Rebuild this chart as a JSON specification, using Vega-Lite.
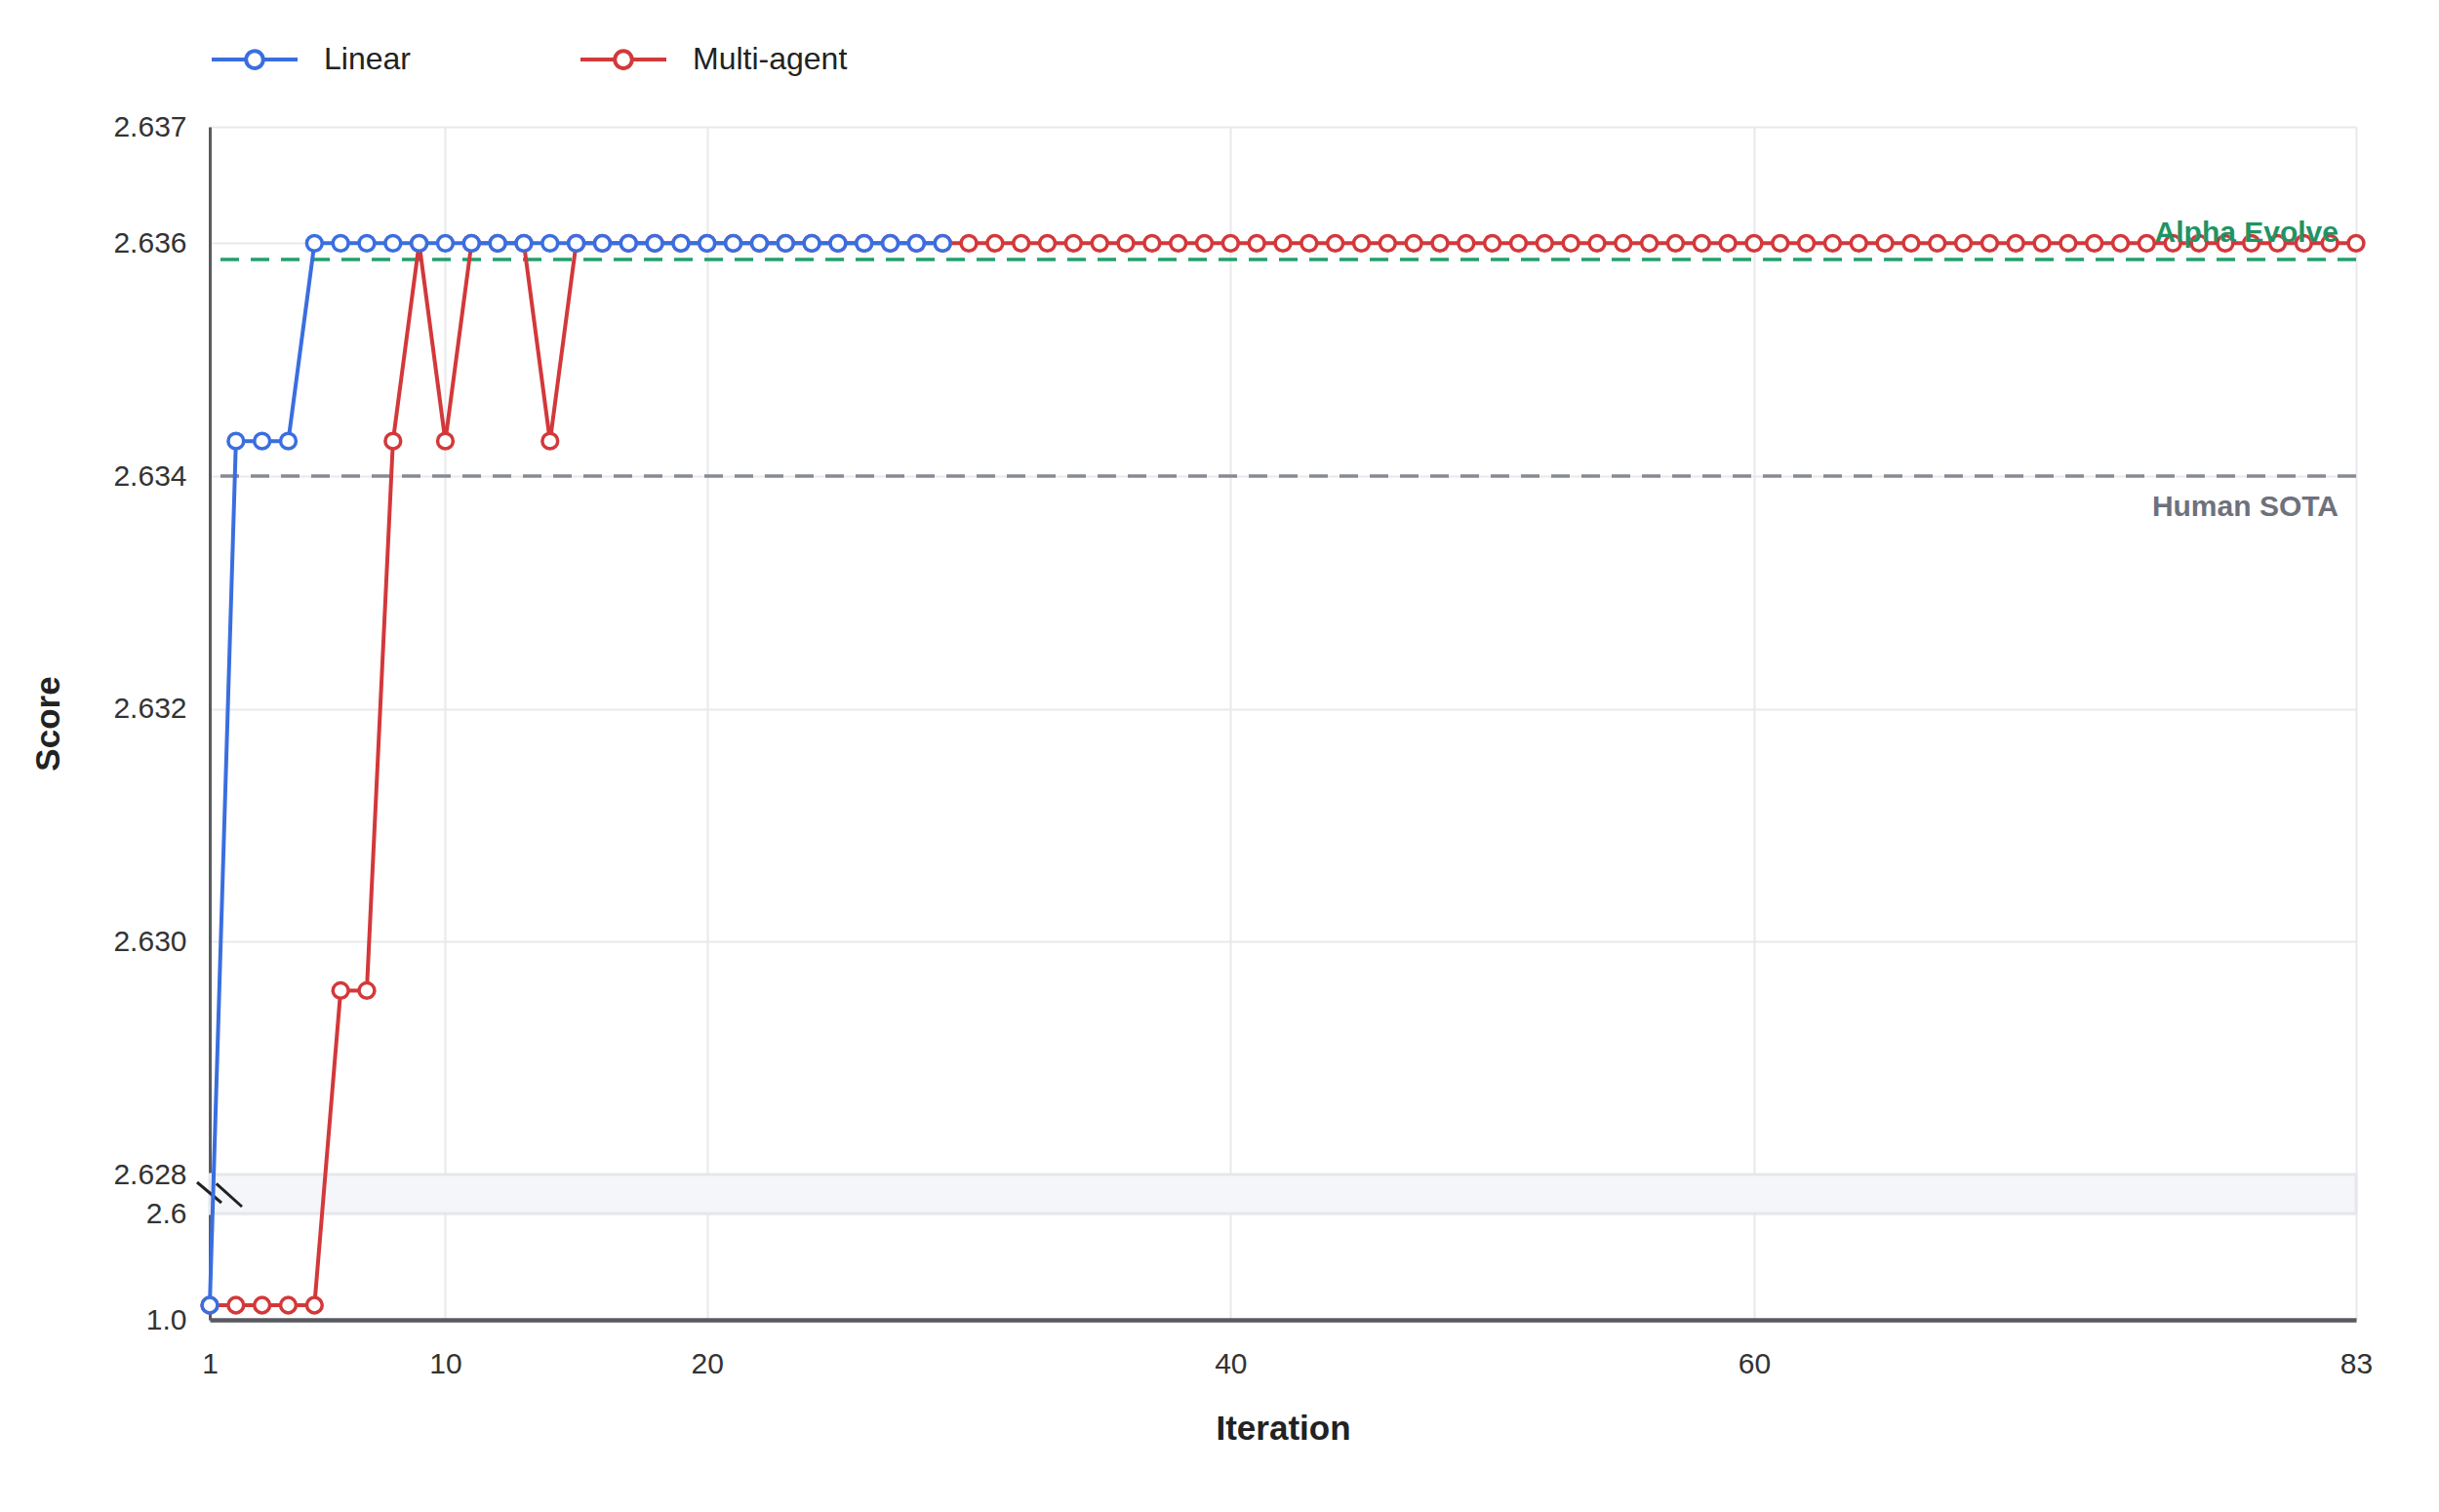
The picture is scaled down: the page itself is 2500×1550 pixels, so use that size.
{
  "$schema": "https://vega.github.io/schema/vega-lite/v6.json",
  "width": 2200,
  "height": 1223,
  "autosize": {"type": "none"},
  "padding": {"left": 215, "top": 130, "right": 85, "bottom": 197},
  "background": "white",
  "datasets": {
    "scores": [
      {"series": "Linear", "iteration": 1, "score": 1.22},
      {"series": "Linear", "iteration": 2, "score": 2.6343},
      {"series": "Linear", "iteration": 3, "score": 2.6343},
      {"series": "Linear", "iteration": 4, "score": 2.6343},
      {"series": "Linear", "iteration": 5, "score": 2.636},
      {"series": "Linear", "iteration": 6, "score": 2.636},
      {"series": "Linear", "iteration": 7, "score": 2.636},
      {"series": "Linear", "iteration": 8, "score": 2.636},
      {"series": "Linear", "iteration": 9, "score": 2.636},
      {"series": "Linear", "iteration": 10, "score": 2.636},
      {"series": "Linear", "iteration": 11, "score": 2.636},
      {"series": "Linear", "iteration": 12, "score": 2.636},
      {"series": "Linear", "iteration": 13, "score": 2.636},
      {"series": "Linear", "iteration": 14, "score": 2.636},
      {"series": "Linear", "iteration": 15, "score": 2.636},
      {"series": "Linear", "iteration": 16, "score": 2.636},
      {"series": "Linear", "iteration": 17, "score": 2.636},
      {"series": "Linear", "iteration": 18, "score": 2.636},
      {"series": "Linear", "iteration": 19, "score": 2.636},
      {"series": "Linear", "iteration": 20, "score": 2.636},
      {"series": "Linear", "iteration": 21, "score": 2.636},
      {"series": "Linear", "iteration": 22, "score": 2.636},
      {"series": "Linear", "iteration": 23, "score": 2.636},
      {"series": "Linear", "iteration": 24, "score": 2.636},
      {"series": "Linear", "iteration": 25, "score": 2.636},
      {"series": "Linear", "iteration": 26, "score": 2.636},
      {"series": "Linear", "iteration": 27, "score": 2.636},
      {"series": "Linear", "iteration": 28, "score": 2.636},
      {"series": "Linear", "iteration": 29, "score": 2.636},
      {"series": "Multi-agent", "iteration": 1, "score": 1.22},
      {"series": "Multi-agent", "iteration": 2, "score": 1.22},
      {"series": "Multi-agent", "iteration": 3, "score": 1.22},
      {"series": "Multi-agent", "iteration": 4, "score": 1.22},
      {"series": "Multi-agent", "iteration": 5, "score": 1.22},
      {"series": "Multi-agent", "iteration": 6, "score": 2.62958},
      {"series": "Multi-agent", "iteration": 7, "score": 2.62958},
      {"series": "Multi-agent", "iteration": 8, "score": 2.6343},
      {"series": "Multi-agent", "iteration": 9, "score": 2.636},
      {"series": "Multi-agent", "iteration": 10, "score": 2.6343},
      {"series": "Multi-agent", "iteration": 11, "score": 2.636},
      {"series": "Multi-agent", "iteration": 12, "score": 2.636},
      {"series": "Multi-agent", "iteration": 13, "score": 2.636},
      {"series": "Multi-agent", "iteration": 14, "score": 2.6343},
      {"series": "Multi-agent", "iteration": 15, "score": 2.636},
      {"series": "Multi-agent", "iteration": 16, "score": 2.636},
      {"series": "Multi-agent", "iteration": 17, "score": 2.636},
      {"series": "Multi-agent", "iteration": 18, "score": 2.636},
      {"series": "Multi-agent", "iteration": 19, "score": 2.636},
      {"series": "Multi-agent", "iteration": 20, "score": 2.636},
      {"series": "Multi-agent", "iteration": 21, "score": 2.636},
      {"series": "Multi-agent", "iteration": 22, "score": 2.636},
      {"series": "Multi-agent", "iteration": 23, "score": 2.636},
      {"series": "Multi-agent", "iteration": 24, "score": 2.636},
      {"series": "Multi-agent", "iteration": 25, "score": 2.636},
      {"series": "Multi-agent", "iteration": 26, "score": 2.636},
      {"series": "Multi-agent", "iteration": 27, "score": 2.636},
      {"series": "Multi-agent", "iteration": 28, "score": 2.636},
      {"series": "Multi-agent", "iteration": 29, "score": 2.636},
      {"series": "Multi-agent", "iteration": 30, "score": 2.636},
      {"series": "Multi-agent", "iteration": 31, "score": 2.636},
      {"series": "Multi-agent", "iteration": 32, "score": 2.636},
      {"series": "Multi-agent", "iteration": 33, "score": 2.636},
      {"series": "Multi-agent", "iteration": 34, "score": 2.636},
      {"series": "Multi-agent", "iteration": 35, "score": 2.636},
      {"series": "Multi-agent", "iteration": 36, "score": 2.636},
      {"series": "Multi-agent", "iteration": 37, "score": 2.636},
      {"series": "Multi-agent", "iteration": 38, "score": 2.636},
      {"series": "Multi-agent", "iteration": 39, "score": 2.636},
      {"series": "Multi-agent", "iteration": 40, "score": 2.636},
      {"series": "Multi-agent", "iteration": 41, "score": 2.636},
      {"series": "Multi-agent", "iteration": 42, "score": 2.636},
      {"series": "Multi-agent", "iteration": 43, "score": 2.636},
      {"series": "Multi-agent", "iteration": 44, "score": 2.636},
      {"series": "Multi-agent", "iteration": 45, "score": 2.636},
      {"series": "Multi-agent", "iteration": 46, "score": 2.636},
      {"series": "Multi-agent", "iteration": 47, "score": 2.636},
      {"series": "Multi-agent", "iteration": 48, "score": 2.636},
      {"series": "Multi-agent", "iteration": 49, "score": 2.636},
      {"series": "Multi-agent", "iteration": 50, "score": 2.636},
      {"series": "Multi-agent", "iteration": 51, "score": 2.636},
      {"series": "Multi-agent", "iteration": 52, "score": 2.636},
      {"series": "Multi-agent", "iteration": 53, "score": 2.636},
      {"series": "Multi-agent", "iteration": 54, "score": 2.636},
      {"series": "Multi-agent", "iteration": 55, "score": 2.636},
      {"series": "Multi-agent", "iteration": 56, "score": 2.636},
      {"series": "Multi-agent", "iteration": 57, "score": 2.636},
      {"series": "Multi-agent", "iteration": 58, "score": 2.636},
      {"series": "Multi-agent", "iteration": 59, "score": 2.636},
      {"series": "Multi-agent", "iteration": 60, "score": 2.636},
      {"series": "Multi-agent", "iteration": 61, "score": 2.636},
      {"series": "Multi-agent", "iteration": 62, "score": 2.636},
      {"series": "Multi-agent", "iteration": 63, "score": 2.636},
      {"series": "Multi-agent", "iteration": 64, "score": 2.636},
      {"series": "Multi-agent", "iteration": 65, "score": 2.636},
      {"series": "Multi-agent", "iteration": 66, "score": 2.636},
      {"series": "Multi-agent", "iteration": 67, "score": 2.636},
      {"series": "Multi-agent", "iteration": 68, "score": 2.636},
      {"series": "Multi-agent", "iteration": 69, "score": 2.636},
      {"series": "Multi-agent", "iteration": 70, "score": 2.636},
      {"series": "Multi-agent", "iteration": 71, "score": 2.636},
      {"series": "Multi-agent", "iteration": 72, "score": 2.636},
      {"series": "Multi-agent", "iteration": 73, "score": 2.636},
      {"series": "Multi-agent", "iteration": 74, "score": 2.636},
      {"series": "Multi-agent", "iteration": 75, "score": 2.636},
      {"series": "Multi-agent", "iteration": 76, "score": 2.636},
      {"series": "Multi-agent", "iteration": 77, "score": 2.636},
      {"series": "Multi-agent", "iteration": 78, "score": 2.636},
      {"series": "Multi-agent", "iteration": 79, "score": 2.636},
      {"series": "Multi-agent", "iteration": 80, "score": 2.636},
      {"series": "Multi-agent", "iteration": 81, "score": 2.636},
      {"series": "Multi-agent", "iteration": 82, "score": 2.636},
      {"series": "Multi-agent", "iteration": 83, "score": 2.636}
    ],
    "refs": [
      {"label": "Alpha Evolve", "score": 2.63586},
      {"label": "Human SOTA", "score": 2.634}
    ],
    "band": [
      {"start": 1, "end": 83, "low": 2.6, "high": 2.628}
    ],
    "breaks": [
      {"x": 0.515, "y": 2.6224, "x2": 1.447, "y2": 2.6077},
      {"x": 1.25, "y": 2.6214, "x2": 2.23, "y2": 2.6049}
    ]
  },
  "layer": [
    {
      "data": {"name": "band"},
      "mark": {"type": "rect", "fill": "#f5f6f9", "stroke": "#e6e7eb", "strokeWidth": 3},
      "encoding": {
        "x": {
          "field": "start", "type": "quantitative",
          "scale": {"domain": [1, 83], "nice": false, "zero": false},
          "axis": {
            "values": [1, 10, 20, 40, 60, 83],
            "title": "Iteration",
            "labelPadding": 30,
            "titlePadding": 34,
            "domainWidth": 4.5
          }
        },
        "x2": {"field": "end"},
        "y": {
          "field": "low", "type": "quantitative",
          "scale": {"domain": [1.0, 2.6, 2.628, 2.637], "range": [1223, 1114, 1074, 0], "nice": false, "zero": false},
          "axis": {
            "values": [1.0, 2.6, 2.628, 2.63, 2.632, 2.634, 2.636, 2.637],
            "labelExpr": "datum.value == 1 ? '1.0' : datum.value == 2.6 ? '2.6' : format(datum.value, '.3f')",
            "title": "Score",
            "labelPadding": 24,
            "titlePadding": 48,
            "domainWidth": 3
          }
        },
        "y2": {"field": "high"}
      }
    },
    {
      "data": {"name": "refs"},
      "transform": [{"filter": "datum.label == 'Alpha Evolve'"}],
      "mark": {"type": "rule", "color": "#22a06b", "strokeWidth": 3.5, "strokeDash": [19, 12]},
      "encoding": {
        "y": {"field": "score", "type": "quantitative"}
      }
    },
    {
      "data": {"name": "refs"},
      "transform": [{"filter": "datum.label == 'Human SOTA'"}],
      "mark": {"type": "rule", "color": "#878a95", "strokeWidth": 3.5, "strokeDash": [19, 12]},
      "encoding": {
        "y": {"field": "score", "type": "quantitative"}
      }
    },
    {
      "data": {"name": "breaks"},
      "mark": {"type": "rule", "color": "#222222", "strokeWidth": 3},
      "encoding": {
        "x": {"field": "x", "type": "quantitative"},
        "x2": {"field": "x2"},
        "y": {"field": "y", "type": "quantitative"},
        "y2": {"field": "y2"}
      }
    },
    {
      "data": {"name": "scores"},
      "transform": [{"filter": "datum.series == 'Multi-agent'"}],
      "mark": {
        "type": "line", "strokeWidth": 4,
        "point": {"filled": false, "fill": "white", "size": 250, "strokeWidth": 3.5}
      },
      "encoding": {
        "x": {"field": "iteration", "type": "quantitative"},
        "y": {"field": "score", "type": "quantitative"},
        "color": {
          "field": "series", "type": "nominal",
          "scale": {"domain": ["Linear", "Multi-agent"], "range": ["#3a6ee0", "#d3383a"]},
          "legend": {
            "title": null,
            "orient": "none",
            "legendX": 0,
            "legendY": -115,
            "direction": "horizontal",
            "padding": 0,
            "symbolType": "M-1,0L-0.2,0M0.2,0L1,0M-0.2,0A0.2,0.2,0,1,0,0.2,0A0.2,0.2,0,1,0,-0.2,0Z",
            "symbolSize": 7744,
            "symbolStrokeWidth": 4,
            "symbolFillColor": "white",
            "labelFontSize": 32,
            "labelColor": "#222222",
            "labelOffset": 25,
            "columnPadding": 166,
            "encode": {"symbols": {"update": {"fill": {"value": "white"}}}}
          }
        }
      }
    },
    {
      "data": {"name": "scores"},
      "transform": [{"filter": "datum.series == 'Linear'"}],
      "mark": {
        "type": "line", "strokeWidth": 4,
        "point": {"filled": false, "fill": "white", "size": 250, "strokeWidth": 3.5}
      },
      "encoding": {
        "x": {"field": "iteration", "type": "quantitative"},
        "y": {"field": "score", "type": "quantitative"},
        "color": {"field": "series", "type": "nominal"}
      }
    },
    {
      "data": {"name": "refs"},
      "transform": [{"filter": "datum.label == 'Alpha Evolve'"}],
      "mark": {"type": "text", "color": "#1f9463", "fontSize": 30, "fontWeight": "bold", "align": "right", "baseline": "alphabetic", "dx": -18, "dy": -18},
      "encoding": {
        "x": {"datum": 83, "type": "quantitative"},
        "y": {"field": "score", "type": "quantitative"},
        "text": {"field": "label"}
      }
    },
    {
      "data": {"name": "refs"},
      "transform": [{"filter": "datum.label == 'Human SOTA'"}],
      "mark": {"type": "text", "color": "#6e717c", "fontSize": 30, "fontWeight": "bold", "align": "right", "baseline": "alphabetic", "dx": -18, "dy": 41},
      "encoding": {
        "x": {"datum": 83, "type": "quantitative"},
        "y": {"field": "score", "type": "quantitative"},
        "text": {"field": "label"}
      }
    }
  ],
  "config": {
    "font": "Liberation Sans",
    "view": {"stroke": null},
    "axis": {
      "grid": true,
      "gridColor": "#e9e9ec",
      "gridWidth": 2,
      "domainColor": "#5a5b60",
      "ticks": false,
      "labelFlush": false,
      "labelFontSize": 30,
      "labelColor": "#333333",
      "titleFontSize": 35,
      "titleFontWeight": "bold",
      "titleColor": "#222222"
    }
  }
}
